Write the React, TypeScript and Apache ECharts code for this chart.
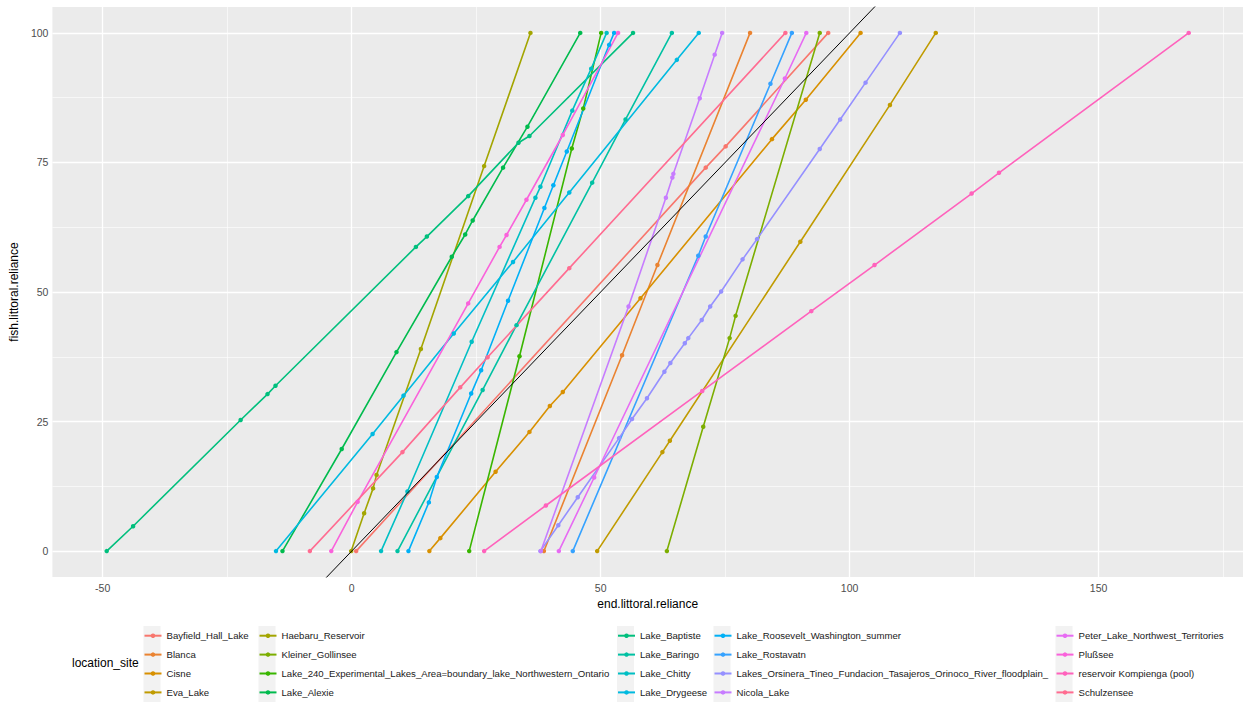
import { useEffect, useRef } from 'react';
import * as echarts from 'echarts';

// ---- data -------------------------------------------------------------
const SITES = [
  'Bayfield_Hall_Lake',
  'Blanca',
  'Cisne',
  'Eva_Lake',
  'Haebaru_Reservoir',
  'Kleiner_Gollinsee',
  'Lake_240_Experimental_Lakes_Area=boundary_lake_Northwestern_Ontario',
  'Lake_Alexie',
  'Lake_Baptiste',
  'Lake_Baringo',
  'Lake_Chitty',
  'Lake_Drygeese',
  'Lake_Roosevelt_Washington_summer',
  'Lake_Rostavatn',
  'Lakes_Orsinera_Tineo_Fundacion_Tasajeros_Orinoco_River_floodplain_',
  'Nicola_Lake',
  'Peter_Lake_Northwest_Territories',
  'Plußsee',
  'reservoir Kompienga (pool)',
  'Schulzensee',
];

// [end.littoral.reliance, fish.littoral.reliance]
const bayfieldHallLake = [[0.9, 0], [71.1, 74.0], [75.1, 78.1], [95.7, 100]];
const blanca = [[38.6, 0], [54.3, 37.8], [61.4, 55.2], [80.0, 100]];
const cisne = [[15.6, 0], [17.8, 2.5], [28.9, 15.3], [35.7, 23.0], [39.8, 28.0], [42.4, 30.7], [58.0, 48.8], [84.4, 79.5], [91.2, 87.1], [102.2, 100]];
const evaLake = [[49.3, 0], [62.4, 19.1], [63.9, 21.3], [90.1, 59.7], [108.1, 86.1], [117.3, 100]];
const haebaruReservoir = [[-0.1, 0], [2.5, 7.3], [4.3, 12.1], [5.0, 14.7], [13.9, 39.0], [26.6, 74.3], [35.9, 100]];
const kleinerGollinsee = [[63.3, 0], [70.6, 24.0], [75.9, 41.1], [77.1, 45.4], [94.0, 100]];
const lake240 = [[23.6, 0], [33.7, 37.6], [44.2, 77.7], [46.5, 85.4], [50.1, 100]];
const lakeAlexie = [[-13.9, 0], [-2.0, 19.7], [9.0, 38.4], [20.1, 56.8], [22.8, 61.1], [24.3, 63.8], [30.4, 74.0], [35.3, 81.9], [45.9, 100]];
const lakeBaptiste = [[-49.2, 0], [-43.9, 4.8], [-22.3, 25.3], [-16.9, 30.3], [-15.3, 31.9], [12.9, 58.7], [15.1, 60.7], [23.4, 68.5], [33.5, 78.8], [35.7, 80.1], [56.5, 100]];
const lakeBaringo = [[9.2, 0], [26.3, 31.1], [33.1, 43.6], [48.3, 71.1], [55.0, 83.3], [64.3, 100]];
const lakeChitty = [[5.9, 0], [11.2, 11.5], [24.1, 40.4], [36.9, 68.2], [37.9, 70.3], [44.3, 85.0], [48.1, 93.1], [51.2, 100]];
const lakeDrygeese = [[-15.2, 0], [4.2, 22.6], [10.4, 30.0], [20.5, 42.0], [32.4, 55.8], [43.7, 69.2], [65.3, 94.8], [69.7, 100]];
const lakeRoosevelt = [[11.4, 0], [15.5, 9.4], [17.1, 14.3], [24.0, 30.4], [26.0, 34.9], [31.4, 48.3], [38.7, 66.2], [40.5, 70.6], [43.2, 77.1], [51.7, 97.7], [52.7, 100]];
const lakeRostavatn = [[44.4, 0], [69.6, 57.0], [71.1, 60.7], [84.1, 90.2], [88.4, 100]];
const lakesOrsinera = [[37.9, 0], [41.5, 5.0], [45.4, 10.4], [53.7, 21.8], [56.3, 25.5], [59.3, 29.5], [62.8, 34.6], [64.0, 36.3], [66.9, 40.1], [67.6, 41.1], [70.3, 44.6], [72.0, 47.2], [74.2, 50.1], [78.5, 56.3], [81.4, 60.2], [94.0, 77.6], [98.1, 83.3], [103.2, 90.4], [110.1, 100]];
const nicolaLake = [[38.0, 0], [55.6, 47.2], [63.1, 68.2], [64.4, 72.1], [64.6, 72.8], [69.9, 87.4], [72.9, 95.8], [74.4, 100]];
const peterLake = [[41.6, 0], [48.7, 14.2], [87.0, 91.2], [91.3, 100]];
const plussee = [[-4.1, 0], [1.2, 9.5], [23.4, 47.8], [29.7, 58.7], [31.1, 61.0], [35.1, 67.8], [42.4, 80.3], [53.5, 100]];
const reservoirKompienga = [[26.6, 0], [39.0, 8.8], [70.4, 30.9], [92.3, 46.3], [105.0, 55.2], [124.5, 69.0], [130.0, 73.0], [168.1, 100]];
const schulzensee = [[-8.4, 0], [10.2, 19.1], [21.8, 31.6], [27.3, 37.4], [43.7, 54.6], [87.1, 100]];

const SITE_POINTS = [
  bayfieldHallLake, blanca, cisne, evaLake, haebaruReservoir, kleinerGollinsee,
  lake240, lakeAlexie, lakeBaptiste, lakeBaringo, lakeChitty, lakeDrygeese,
  lakeRoosevelt, lakeRostavatn, lakesOrsinera, nicolaLake, peterLake, plussee,
  reservoirKompienga, schulzensee,
];

// reference line y = intercept + slope * x
const ABLINE_INTERCEPT = 0;
const ABLINE_SLOPE = 1;

const X_TICKS = [-50, 0, 50, 100, 150];
const X_MINOR = [-25, 25, 75, 125, 175];
const Y_TICKS = [0, 25, 50, 75, 100];
const Y_MINOR = [12.5, 37.5, 62.5, 87.5];
const X_RANGE = [-60.1, 179.0];
const Y_RANGE = [-5, 105];

// ---- styles -----------------------------------------------------------
const PALETTE = [
  '#F8766D', '#EA8331', '#D89000', '#C09B00', '#A3A500', '#7CAE00', '#39B600',
  '#00BB4E', '#00BF7D', '#00C1A3', '#00BFC4', '#00BAE0', '#00B0F6', '#35A2FF',
  '#9590FF', '#C77CFF', '#E76BF3', '#FA62DB', '#FF62BC', '#FF6C91',
];
const FONT = '"Liberation Sans", Arial, Helvetica, sans-serif';
const LEGEND_KEY_CENTERS = [152, 267, 625.5, 722, 1064];
const LEGEND_ROWS = 4;

function buildOption() {
  const columns: string[][] = [];
  for (let i = 0; i < SITES.length; i += LEGEND_ROWS) columns.push(SITES.slice(i, i + LEGEND_ROWS));

  const gridLine = (axis: 'xAxis' | 'yAxis', v: number, width: number) => ({
    [axis]: v,
    lineStyle: { color: '#FFFFFF', width, type: 'solid', opacity: 1 },
  });

  const gridSeries = {
    name: '__grid',
    type: 'line',
    data: [],
    silent: true,
    markLine: {
      z: 1,
      silent: true,
      animation: false,
      symbol: ['none', 'none'],
      label: { show: false },
      emphasis: { disabled: true },
      data: [
        ...X_MINOR.map((v) => gridLine('xAxis', v, 0.6)),
        ...Y_MINOR.map((v) => gridLine('yAxis', v, 0.6)),
        ...X_TICKS.map((v) => gridLine('xAxis', v, 1.3)),
        ...Y_TICKS.map((v) => gridLine('yAxis', v, 1.3)),
      ],
    },
  };

  const siteSeries = SITES.map((name, i) => ({
    name,
    type: 'line',
    data: SITE_POINTS[i],
    color: PALETTE[i],
    symbol: 'circle',
    symbolSize: 4.5,
    showSymbol: true,
    lineStyle: { width: 1.6, color: PALETTE[i] },
    itemStyle: { color: PALETTE[i] },
    emphasis: { disabled: true },
    z: 2,
  }));

  const abX0 = Y_RANGE[0] - 1;
  const abX1 = Y_RANGE[1] + 1;
  const ablineSeries = {
    name: 'abline',
    type: 'line',
    data: [
      [abX0, ABLINE_INTERCEPT + ABLINE_SLOPE * abX0],
      [abX1, ABLINE_INTERCEPT + ABLINE_SLOPE * abX1],
    ],
    symbol: 'none',
    silent: true,
    lineStyle: { color: '#000000', width: 1 },
    emphasis: { disabled: true },
    z: 3,
  };

  const tickStyle = { color: '#333333', width: 1 };

  return {
    animation: false,
    textStyle: { fontFamily: FONT },
    grid: {
      left: 48,
      top: 7,
      width: 1200,
      height: 570,
      show: true,
      backgroundColor: '#EBEBEB',
      borderWidth: 0,
    },
    xAxis: {
      type: 'value',
      min: X_RANGE[0],
      max: X_RANGE[1],
      name: 'end.littoral.reliance',
      nameLocation: 'middle',
      nameGap: 17,
      nameTextStyle: { fontFamily: FONT, fontSize: 12, color: '#000000' },
      axisLine: { show: false },
      axisTick: { show: true, customValues: X_TICKS, length: 3, lineStyle: tickStyle },
      axisLabel: { customValues: X_TICKS, color: '#4D4D4D', fontSize: 10.5, fontFamily: FONT, margin: 5 },
      splitLine: { show: false },
    },
    yAxis: {
      type: 'value',
      min: Y_RANGE[0],
      max: Y_RANGE[1],
      name: 'fish.littoral.reliance',
      nameLocation: 'middle',
      nameGap: 24,
      nameTextStyle: { fontFamily: FONT, fontSize: 12, color: '#000000' },
      axisLine: { show: false },
      axisTick: { show: true, customValues: Y_TICKS, length: 3, lineStyle: tickStyle },
      axisLabel: { customValues: Y_TICKS, color: '#4D4D4D', fontSize: 10.5, fontFamily: FONT, margin: 4 },
      splitLine: { show: false },
    },
    legend: columns.map((names, c) => ({
      data: names,
      orient: 'vertical',
      left: LEGEND_KEY_CENTERS[c] - 8.5,
      top: 629.7,
      itemWidth: 17,
      itemHeight: 5.6,
      itemGap: 6.9,
      padding: 0,
      selectedMode: false,
      textStyle: { fontFamily: FONT, fontSize: 9.6, color: '#1A1A1A', lineHeight: 12 },
    })),
    graphic: [
      ...LEGEND_KEY_CENTERS.map((cx) => ({
        type: 'rect',
        silent: true,
        z: 0,
        shape: { x: cx - 8.5, y: 626, width: 17, height: 76 },
        style: { fill: '#F2F2F2' },
      })),
      {
        type: 'text',
        left: 72,
        top: 657,
        silent: true,
        style: { text: 'location_site', font: `12px ${FONT}`, fill: '#000000' },
      },
    ],
    series: [gridSeries, ...siteSeries, ablineSeries],
  };
}

export default function App() {
  const ref = useRef<HTMLDivElement>(null);
  useEffect(() => {
    if (!ref.current) return;
    const chart = echarts.init(ref.current, null, { renderer: 'svg' });
    chart.setOption(buildOption() as any);
    return () => chart.dispose();
  }, []);
  return (
    <div
      ref={ref}
      style={{ position: 'fixed', left: 0, top: 0, width: 1243, height: 703, background: '#FFFFFF' }}
    />
  );
}
